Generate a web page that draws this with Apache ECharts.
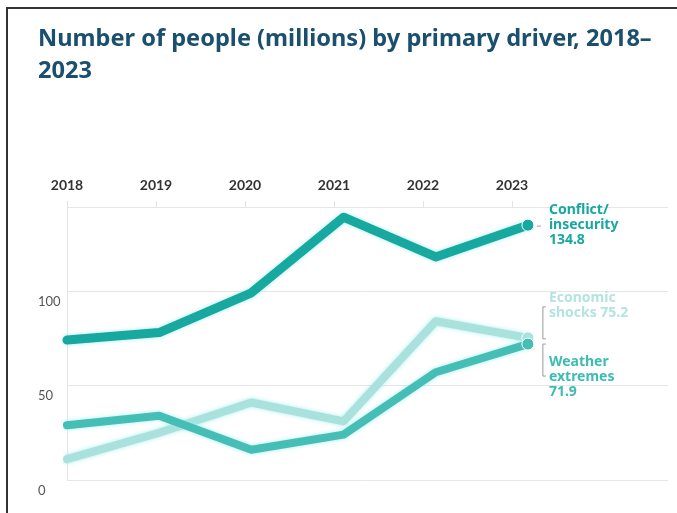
<!DOCTYPE html>
<html><head><meta charset="utf-8">
<script src="https://cdn.jsdelivr.net/npm/echarts@6/dist/echarts.min.js"></script>
<style>html,body{margin:0;padding:0;background:#fff}#c{width:677px;height:513px}</style>
</head><body><div id="c"></div>
<script>
const years = ['2018','2019','2020','2021','2022','2023'];
const conflict = [74, 78, 99, 139, 118, 134.8];
const economic = [11, 25, 41, 31, 84, 75.2];
const weather = [29, 34, 16, 24, 57, 71.9];
const yTicks = [0, 50, 100];

const C1 = '#17a89f', C2 = '#a9e1dd', C3 = '#45bfb6';
const FONT = 'Lato';
const LFONT = 'Noto Sans';
const chart = echarts.init(document.getElementById('c'));

function pts(arr) {
  return arr.map((v, i) => {
    const p = { value: [Number(years[i]), v], symbol: 'none' };
    if (i === arr.length - 1) { p.symbol = 'circle'; p.symbolSize = 12; }
    return p;
  });
}
function series(name, arr, color, labelColor, width, label, offY, z) {
  return {
    type: 'line', name, xAxisIndex: 0, yAxisIndex: 0, z,
    data: pts(arr), showSymbol: true, symbol: 'none', animation: false,
    itemStyle: { color, borderColor: '#fff', borderWidth: 1 },
    lineStyle: { color, width, shadowColor: 'rgba(160,235,235,0.9)', shadowBlur: 4, cap: 'round', join: 'round' },
    endLabel: {
      show: true, formatter: label, color: labelColor, fontFamily: LFONT, fontWeight: 'bold',
      fontSize: 14, lineHeight: 15, distance: 21, offset: [0, offY], align: 'left', verticalAlign: 'middle'
    }
  };
}

chart.setOption({
  backgroundColor: '#fff',
  title: {
    text: 'Number of people (millions) by primary driver, 2018–\n2023',
    left: 33, top: 18,
    textStyle: { fontFamily: LFONT, fontWeight: 'bold', fontSize: 23.6, color: '#1b4f6e', lineHeight: 32 }
  },
  grid: [
    { left: 67, right: 9, top: 207, bottom: 33 },
    { left: 67, right: 165, top: 207, bottom: 33 }
  ],
  xAxis: [
    { gridIndex: 0, type: 'value', min: 2018, max: 2024.52, show: false },
    { gridIndex: 1, type: 'category', data: years, position: 'top', boundaryGap: false,
      axisLine: { show: false, onZero: false },
      axisTick: { show: true, length: 6, lineStyle: { color: '#e3e3e3' } },
      axisLabel: { margin: 15, color: '#333', fontFamily: FONT, fontWeight: 'bold', fontSize: 14 } }
  ],
  yAxis: [
    { gridIndex: 0, type: 'value', min: 0, max: 144.4, interval: 50,
      axisLine: { show: true, lineStyle: { color: '#e6e6e6' } },
      axisTick: { show: false },
      splitLine: { show: true, lineStyle: { color: '#e6e6e6', width: 1 } },
      axisLabel: { color: '#555', fontFamily: FONT, fontSize: 13, align: 'left', margin: 29,
        verticalAlign: 'top', padding: [4, 0, 0, 0],
        formatter: v => (yTicks.indexOf(v) >= 0 ? String(v) : '') } },
    { gridIndex: 1, type: 'value', min: 0, max: 144.4, show: false }
  ],
  series: [
    series('Economic shocks', economic, C2, '#b3e4e1', 8, 'Economic\nshocks 75.2', -32, 3),
    series('Weather extremes', weather, C3, '#3dbcb3', 8, 'Weather\nextremes\n71.9', 33, 4),
    series('Conflict/insecurity', conflict, C1, '#17a89f', 9, 'Conflict/\ninsecurity\n134.8', 0, 5)
  ]
});

// annotation brackets next to the end labels
const last = years.length - 1;
const pC = chart.convertToPixel({ gridIndex: 0 }, [Number(years[last]), conflict[last]]);
const pE = chart.convertToPixel({ gridIndex: 0 }, [Number(years[last]), economic[last]]);
const pW = chart.convertToPixel({ gridIndex: 0 }, [Number(years[last]), weather[last]]);
const bx = pC[0] + 15;
const st = { stroke: '#9a9a9a', lineWidth: 1 };
function bracket(y1, y2) {
  return { type: 'polyline', shape: { points: [[bx + 3, y1], [bx, y1], [bx, y2], [bx + 3, y2]] }, style: Object.assign({ fill: null }, st) };
}
chart.setOption({
  graphic: [
    { type: 'line', shape: { x1: bx - 6, y1: pC[1] + 1, x2: bx - 2, y2: pC[1] + 1 }, style: st },
    bracket(pE[1] - 31, pE[1] + 1),
    bracket(pW[1] + 0, pW[1] + 32),
    { type: 'rect', shape: { x: 7, y: 8, width: 700, height: 600 }, style: { fill: null, stroke: '#333', lineWidth: 2 }, silent: true }
  ]
});
</script></body></html>
